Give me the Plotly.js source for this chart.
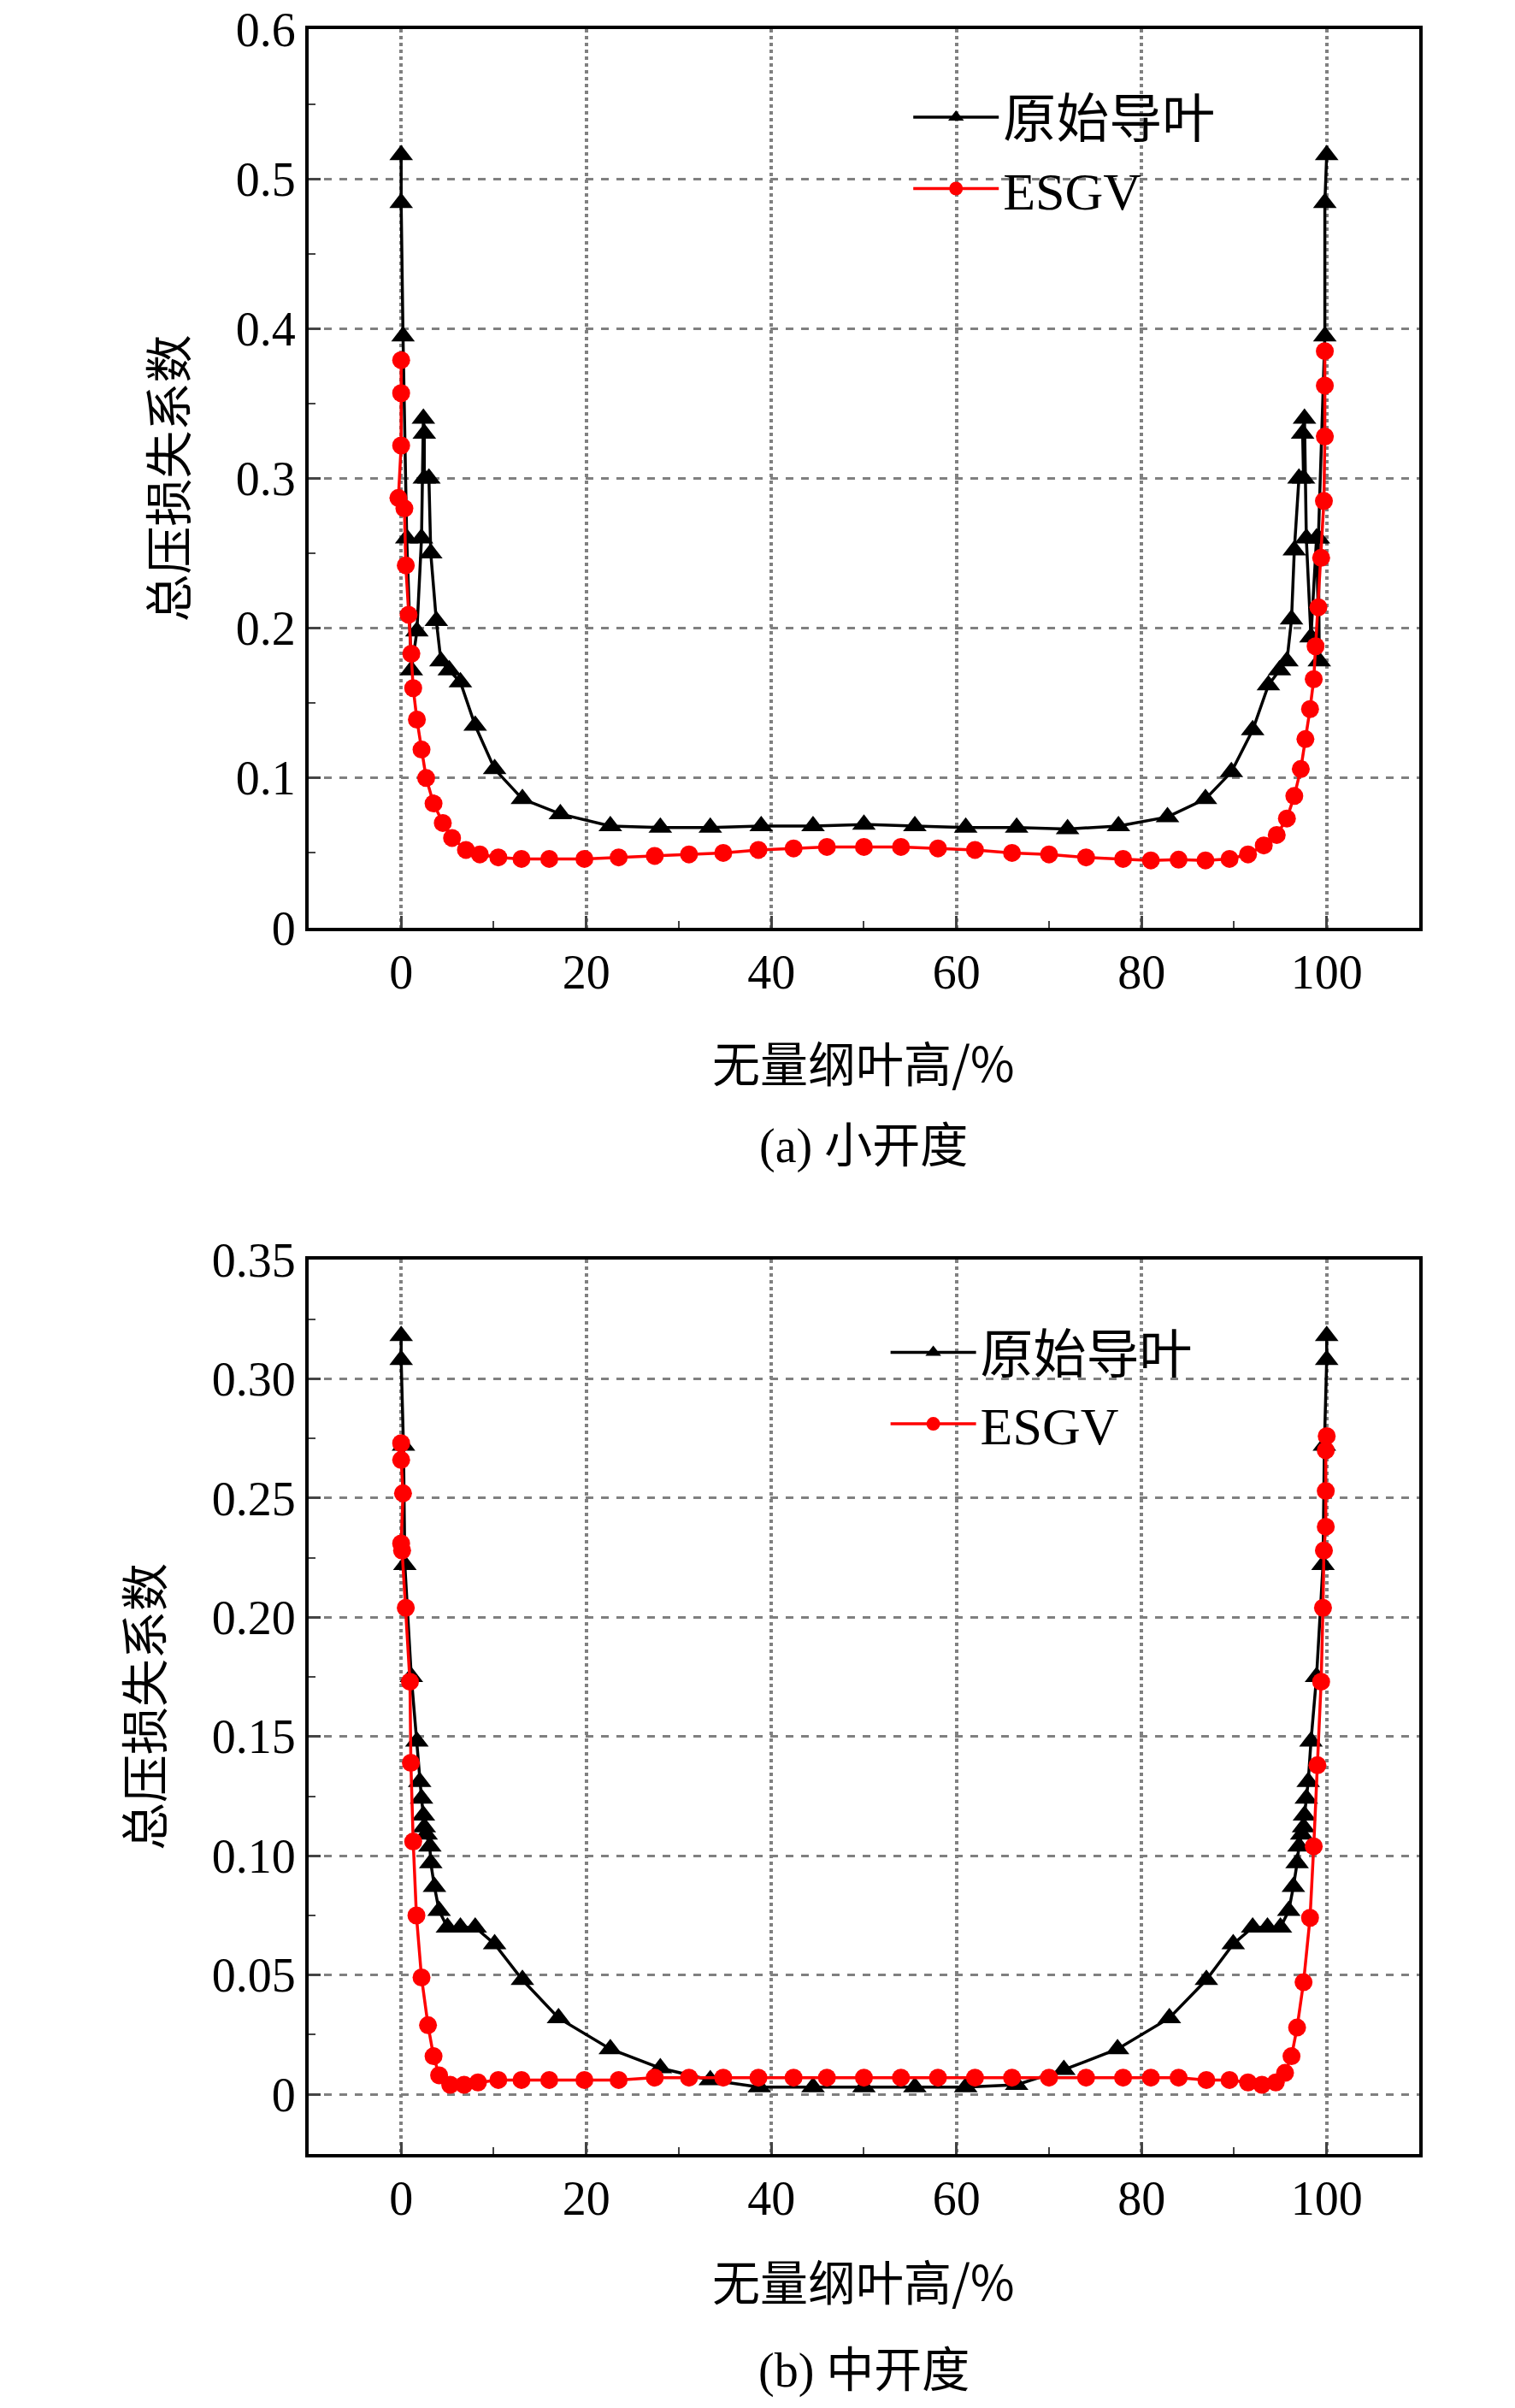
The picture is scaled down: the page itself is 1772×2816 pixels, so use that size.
<!DOCTYPE html>
<html>
<head>
<meta charset="utf-8">
<script src="https://cdn.plot.ly/plotly-3.0.1.min.js"></script>
<style>body{margin:0;background:#fff}#plot{width:1772px;height:2816px}</style>
</head>
<body>
<div id="plot"></div>
<script>
// (a) small opening
var a_orig_x = [0, 0, 0.2, 0.6, 1.1, 1.7, 2.2, 2.4, 2.5, 2.5, 3.0, 3.2, 3.8, 4.3, 5.2, 6.4, 8, 10.1, 13.1, 17.2, 22.6, 28, 33.4, 38.9, 44.5, 50, 55.5, 61, 66.5, 72, 77.5, 82.8, 86.9, 89.7, 92, 93.7, 94.9, 95.7, 96.2, 96.5, 97.0, 97.5, 97.4, 97.6, 97.8, 98.3, 98.9, 99.2, 99.1, 99.8, 99.8, 100];
var a_orig_y = [0.516, 0.484, 0.395, 0.26, 0.172, 0.198, 0.26, 0.34, 0.33, 0.30, 0.30, 0.25, 0.205, 0.178, 0.172, 0.164, 0.135, 0.106, 0.086, 0.076, 0.068, 0.067, 0.067, 0.068, 0.068, 0.069, 0.068, 0.067, 0.067, 0.066, 0.068, 0.074, 0.086, 0.104, 0.132, 0.162, 0.172, 0.178, 0.206, 0.252, 0.30, 0.30, 0.33, 0.34, 0.26, 0.194, 0.26, 0.178, 0.26, 0.395, 0.484, 0.516];
var a_esgv_x = [0, 0, 0, -0.3, 0.35, 0.5, 0.8, 1.1, 1.3, 1.7, 2.2, 2.7, 3.5, 4.5, 5.5, 7, 8.5, 10.5, 13, 16, 19.8, 23.5, 27.4, 31.1, 34.8, 38.6, 42.4, 46, 50, 54, 58, 62, 66, 70, 74, 78, 81, 84, 86.9, 89.5, 91.5, 93.2, 94.6, 95.7, 96.5, 97.2, 97.7, 98.2, 98.6, 98.8, 99.1, 99.4, 99.7, 99.8, 99.8, 99.8];
var a_esgv_y = [0.379, 0.357, 0.322, 0.287, 0.28, 0.242, 0.209, 0.183, 0.16, 0.139, 0.119, 0.1, 0.083, 0.07, 0.06, 0.052, 0.049, 0.047, 0.046, 0.046, 0.046, 0.047, 0.048, 0.049, 0.05, 0.052, 0.053, 0.054, 0.054, 0.054, 0.053, 0.052, 0.05, 0.049, 0.047, 0.046, 0.045, 0.0455, 0.045, 0.046, 0.049, 0.055, 0.062, 0.073, 0.088, 0.106, 0.126, 0.146, 0.166, 0.188, 0.214, 0.247, 0.285, 0.328, 0.362, 0.385];

// (b) medium opening
var b_orig_x = [0, 0, 0.25, 0.4, 1.1, 1.7, 2.0, 2.2, 2.4, 2.5, 2.7, 3.1, 3.2, 3.6, 4.1, 5, 6.4, 8, 10.1, 13.1, 17, 22.6, 28, 33.4, 38.7, 44.5, 50, 55.5, 61, 66.5, 71.6, 77.4, 83, 87, 89.9, 92, 93.6, 95, 95.9, 96.4, 96.8, 97, 97.3, 97.5, 97.6, 97.8, 98, 98.3, 98.9, 99.6, 99.75, 100, 100];
var b_orig_y = [0.318, 0.308, 0.272, 0.222, 0.175, 0.148, 0.131, 0.124, 0.117, 0.112, 0.109, 0.104, 0.097, 0.087, 0.077, 0.07, 0.07, 0.07, 0.063, 0.048, 0.032, 0.019, 0.011, 0.006, 0.003, 0.003, 0.003, 0.003, 0.003, 0.004, 0.0103, 0.019, 0.032, 0.048, 0.063, 0.07, 0.07, 0.07, 0.077, 0.087, 0.097, 0.104, 0.109, 0.112, 0.117, 0.124, 0.131, 0.148, 0.175, 0.222, 0.272, 0.308, 0.318];
var b_esgv_x = [0, 0, 0.2, 0, 0.1, 0.5, 0.95, 1.05, 1.3, 1.65, 2.2, 2.9, 3.5, 4.1, 5.3, 6.8, 8.3, 10.5, 13, 16, 19.8, 23.5, 27.4, 31.1, 34.8, 38.6, 42.4, 46, 50, 54, 58, 62, 66, 70, 74, 78, 81, 84, 87, 89.5, 91.5, 93, 94.5, 95.5, 96.2, 96.8, 97.5, 98.2, 98.6, 99, 99.4, 99.6, 99.7, 99.9, 99.9, 99.9, 100];
var b_esgv_y = [0.273, 0.266, 0.252, 0.231, 0.228, 0.204, 0.173, 0.139, 0.106, 0.075, 0.049, 0.029, 0.016, 0.008, 0.004, 0.004, 0.005, 0.006, 0.006, 0.006, 0.006, 0.006, 0.007, 0.007, 0.007, 0.007, 0.007, 0.007, 0.007, 0.007, 0.007, 0.007, 0.007, 0.007, 0.007, 0.007, 0.007, 0.007, 0.006, 0.006, 0.005, 0.004, 0.005, 0.009, 0.016, 0.028, 0.047, 0.074, 0.104, 0.138, 0.173, 0.204, 0.228, 0.238, 0.253, 0.27, 0.276];

var xTicks = [0, 20, 40, 60, 80, 100];
var aTickVals = [0, 0.1, 0.2, 0.3, 0.4, 0.5, 0.6];
var aTickText = ["0", "0.1", "0.2", "0.3", "0.4", "0.5", "0.6"];
var bTickVals = [0, 0.05, 0.10, 0.15, 0.20, 0.25, 0.30, 0.35];
var bTickText = ["0", "0.05", "0.10", "0.15", "0.20", "0.25", "0.30", "0.35"];
var nameOrig = "原始导叶";
var nameEsgv = "ESGV";
var xTitle = "无量纲叶高/%";
var yTitle = "总压损失系数";

var serif = "Liberation Serif, Times New Roman, Noto Sans CJK SC";

function tri(x, y, xa, ya, lg) {
  return {
    x: x, y: y, xaxis: xa, yaxis: ya, legend: lg, name: nameOrig,
    mode: "lines+markers", type: "scatter",
    line: { color: "#000000", width: 3.5 },
    marker: { symbol: "triangle-up", size: 24, color: "#000000" },
  };
}
function dot(x, y, xa, ya, lg) {
  return {
    x: x, y: y, xaxis: xa, yaxis: ya, legend: lg, name: nameEsgv,
    mode: "lines+markers", type: "scatter",
    line: { color: "#ff0000", width: 3.5 },
    marker: { symbol: "circle", size: 21, color: "#ff0000" },
  };
}

var data = [
  tri(a_orig_x, a_orig_y, "x", "y", "legend"),
  dot(a_esgv_x, a_esgv_y, "x", "y", "legend"),
  tri(b_orig_x, b_orig_y, "x2", "y2", "legend2"),
  dot(b_esgv_x, b_esgv_y, "x2", "y2", "legend2"),
];

function xaxis(anchor, dom) {
  return {
    anchor: anchor, domain: dom, range: [-10, 110],
    tickvals: xTicks, ticks: "inside", ticklen: 14, tickwidth: 3,
    minor: { dtick: 10, ticks: "inside", ticklen: 8, tickwidth: 2, showgrid: false },
    showline: true, mirror: true, linecolor: "#000", linewidth: 4,
    showgrid: true, gridcolor: "#808080", griddash: "dot", gridwidth: 4,
    zeroline: false,
    tickfont: { family: serif, size: 56, color: "#000" },
  };
}
function yaxis(anchor, dom, range, vals, text, minorStep) {
  return {
    anchor: anchor, domain: dom, range: range,
    tickvals: vals, ticktext: text, ticks: "inside", ticklen: 14, tickwidth: 3,
    minor: { dtick: minorStep, tick0: 0, ticks: "inside", ticklen: 8, tickwidth: 2, showgrid: false },
    showline: true, mirror: true, linecolor: "#000", linewidth: 4,
    showgrid: true, gridcolor: "#808080", griddash: "dash", gridwidth: 3,
    zeroline: false,
    tickfont: { family: serif, size: 56, color: "#000" },
    title: { text: yTitle, font: { family: "Noto Sans CJK SC", size: 56, color: "#000" }, standoff: 40 },
  };
}

var legendBase = {
  bgcolor: "rgba(0,0,0,0)", borderwidth: 0, xanchor: "left", yanchor: "top",
  font: { family: serif, size: 62, color: "#000" }, itemwidth: 100, tracegroupgap: 0,
};

var layout = {
  width: 1772, height: 2816,
  margin: { l: 0, r: 0, t: 0, b: 0 },
  paper_bgcolor: "#fff", plot_bgcolor: "#fff",
  showlegend: true,
  xaxis: xaxis("y", [0.2037, 0.9368]),
  yaxis: yaxis("x", [0.6147, 0.9879], [0, 0.6], aTickVals, aTickText, 0.05),
  xaxis2: xaxis("y2", [0.2037, 0.9368]),
  yaxis2: yaxis("x2", [0.1055, 0.4769], [-0.025, 0.35], bTickVals, bTickText, 0.025),
  legend: Object.assign({ x: 0.6, y: 0.968 }, legendBase),
  legend2: Object.assign({ x: 0.585, y: 0.455 }, legendBase),
  annotations: [
    { text: xTitle, xref: "paper", yref: "paper", x: 0.57, y: 1 - 1240 / 2816, showarrow: false,
      font: { family: "Noto Sans CJK SC", size: 56, color: "#000" } },
    { text: "(a) 小开度", xref: "paper", yref: "paper", x: 0.57, y: 1 - 1340 / 2816, showarrow: false,
      font: { family: serif, size: 56, color: "#000" } },
    { text: xTitle, xref: "paper", yref: "paper", x: 0.57, y: 1 - 2708 / 2816, showarrow: false,
      font: { family: "Noto Sans CJK SC", size: 56, color: "#000" } },
    { text: "(b) 中开度", xref: "paper", yref: "paper", x: 0.57, y: 1 - 2806 / 2816, showarrow: false,
      yanchor: "bottom", font: { family: serif, size: 56, color: "#000" } },
  ],
};

Plotly.newPlot("plot", data, layout, { displayModeBar: false, staticPlot: true });
</script>
</body>
</html>
